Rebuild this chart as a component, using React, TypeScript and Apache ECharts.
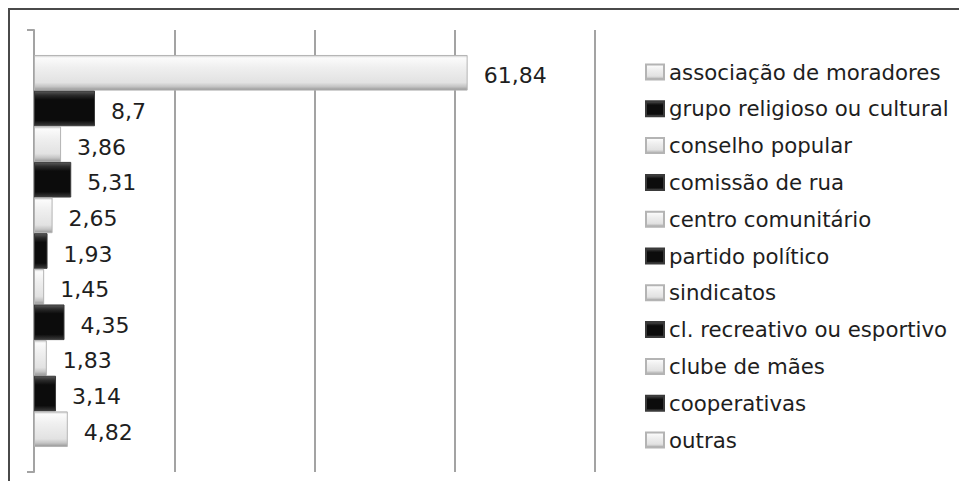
import React, { useEffect, useRef } from "react";
import * as echarts from "echarts";

const seriesNames = [
  "associação de moradores",
  "grupo religioso ou cultural",
  "conselho popular",
  "comissão de rua",
  "centro comunitário",
  "partido político",
  "sindicatos",
  "cl. recreativo ou esportivo",
  "clube de mães",
  "cooperativas",
  "outras",
];
const seriesValues = [61.84, 8.7, 3.86, 5.31, 2.65, 1.93, 1.45, 4.35, 1.83, 3.14, 4.82];
const categories = [""];

const FONT = "DejaVu Sans";

const lightFill = () =>
  new echarts.graphic.LinearGradient(0, 0, 0, 1, [
    { offset: 0, color: "#cfcfcf" },
    { offset: 0.07, color: "#fbfbfb" },
    { offset: 0.35, color: "#efefef" },
    { offset: 0.78, color: "#e2e2e2" },
    { offset: 0.9, color: "#c4c4c4" },
    { offset: 1, color: "#969696" },
  ]);
const darkFill = () =>
  new echarts.graphic.LinearGradient(0, 0, 0, 1, [
    { offset: 0, color: "#5a5a5a" },
    { offset: 0.12, color: "#2a2a2a" },
    { offset: 0.25, color: "#0c0c0c" },
    { offset: 0.85, color: "#0c0c0c" },
    { offset: 1, color: "#3a3a3a" },
  ]);

export default function App() {
  const ref = useRef<HTMLDivElement>(null);
  useEffect(() => {
    if (!ref.current) return;
    const chart = echarts.init(ref.current, null, { renderer: "svg" });
    const series = seriesNames.map((name, i) => {
      const light = i % 2 === 0;
      return {
        name,
        type: "bar",
        data: [seriesValues[i]],
        barGap: "0%",
        barCategoryGap: "11.3%",
        itemStyle: {
          color: light ? lightFill() : darkFill(),
          borderColor: light ? "#b4b4b4" : "#3a3a3a",
          borderWidth: 1,
        },
        label: {
          show: true,
          position: "right",
          distance: 16,
          offset: [0, 3],
          fontFamily: FONT,
          fontSize: 22,
          color: "#1e1e1e",
          formatter: (p: any) => String(p.value).replace(".", ","),
        },
      };
    });
    chart.setOption({
      animation: false,
      backgroundColor: "#ffffff",
      grid: { left: 26, top: 22, width: 561, height: 442, containLabel: false },
      xAxis: {
        type: "value",
        min: 0,
        max: 80,
        interval: 20,
        axisLine: { show: false },
        axisTick: { show: false },
        axisLabel: { show: false },
        splitLine: { show: true, lineStyle: { color: "#a3a3a3", width: 2 } },
      },
      yAxis: {
        type: "category",
        data: categories,
        axisLine: { show: true, lineStyle: { color: "#a3a3a3", width: 2 } },
        axisTick: { show: true, length: 7, lineStyle: { color: "#a3a3a3", width: 2 } },
        axisLabel: { show: false },
      },
      legend: {
        orient: "vertical",
        left: 637,
        top: 53,
        padding: 0,
        itemWidth: 18,
        itemHeight: 15,
        itemGap: 14.8,
        icon: "rect",
        data: seriesNames,
        textStyle: { fontFamily: FONT, fontSize: 21.3, color: "#1e1e1e", lineHeight: 22 },
      },
      graphic: [
        { type: "line", shape: { x1: 0, y1: 1, x2: 959, y2: 1 }, style: { stroke: "#4a4a4a", lineWidth: 2 } },
        { type: "line", shape: { x1: 1, y1: 0, x2: 1, y2: 473 }, style: { stroke: "#4a4a4a", lineWidth: 2 } },
      ],
      series,
    });
    return () => chart.dispose();
  }, []);
  return <div ref={ref} style={{ width: 959, height: 473 }} />;
}
